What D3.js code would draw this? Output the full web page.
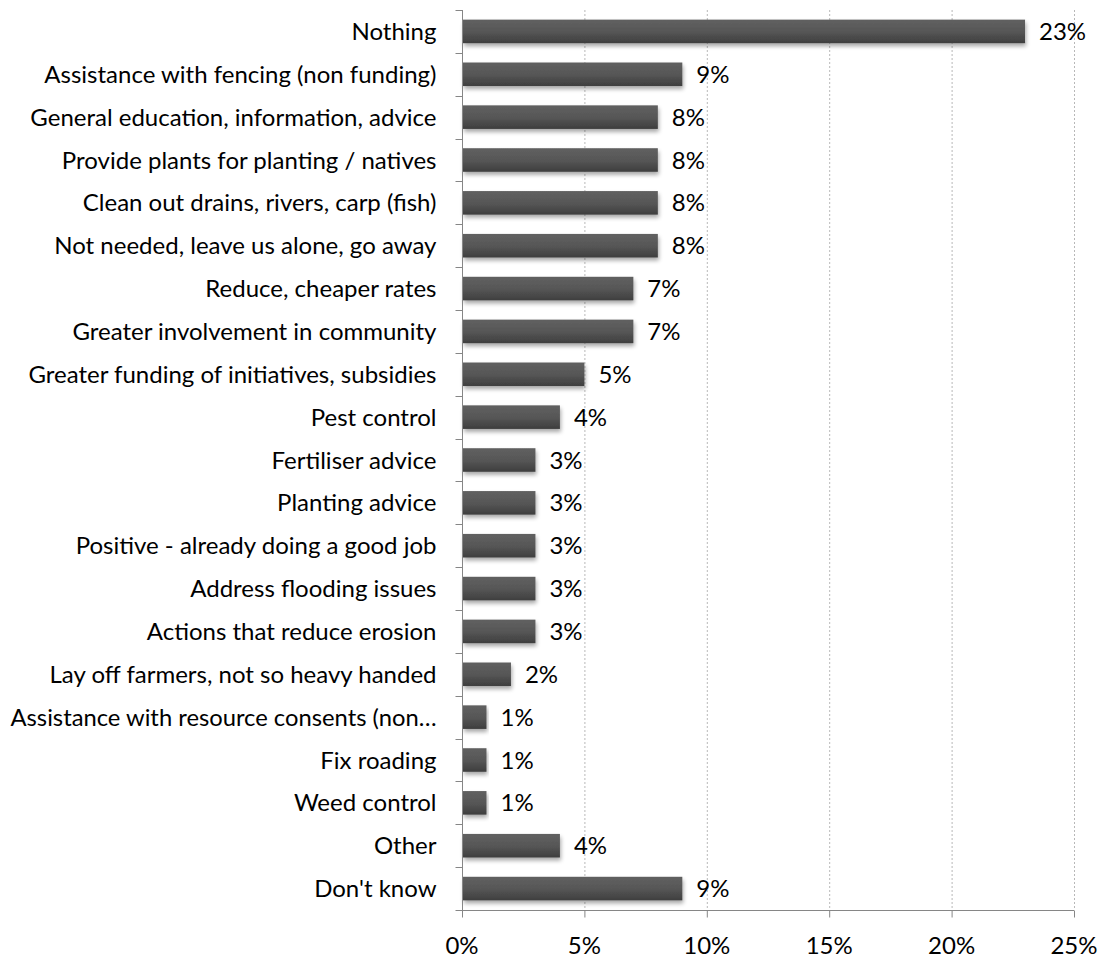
<!DOCTYPE html>
<html><head><meta charset="utf-8">
<script src="https://d3js.org/d3.v7.min.js"></script>
<style>body{margin:0;background:#fff}svg{display:block}text{font-family:Lato,"Open Sans",sans-serif;fill:#000}</style>
</head><body><svg id="c" width="1105" height="960"></svg>
<script>
const categories = ["Nothing","Assistance with fencing (non funding)","General education, information, advice","Provide plants for planting / natives","Clean out drains, rivers, carp (fish)","Not needed, leave us alone, go away","Reduce, cheaper rates","Greater involvement in community","Greater funding of initiatives, subsidies","Pest control","Fertiliser advice","Planting advice","Positive - already doing a good job","Address flooding issues","Actions that reduce erosion","Lay off farmers, not so heavy handed","Assistance with resource consents (non…","Fix roading","Weed control","Other","Don't know"];
const values = [23,9,8,8,8,8,7,7,5,4,3,3,3,3,3,2,1,1,1,4,9];
const xTicks = [0,5,10,15,20,25];

const FS = "24px";
const svg = d3.select("#c");
const m = {l:462, r:1074, t:10, b:910};
const x = d3.scaleLinear().domain([0,25]).range([m.l,m.r]);
const y = d3.scaleBand().domain(categories).range([m.t,m.b]).paddingInner(0.45).paddingOuter(0.225);

const defs = svg.append("defs");
const g = defs.append("linearGradient").attr("id","bg").attr("x1",0).attr("y1",0).attr("x2",0).attr("y2",1);
g.append("stop").attr("offset","0%").attr("stop-color","#606060");
g.append("stop").attr("offset","50%").attr("stop-color","#575757");
g.append("stop").attr("offset","100%").attr("stop-color","#3e3e3e");
const f = defs.append("filter").attr("id","sh").attr("x","-5%").attr("y","-30%").attr("width","115%").attr("height","180%");
f.append("feGaussianBlur").attr("in","SourceAlpha").attr("stdDeviation",2).attr("result","b");
f.append("feOffset").attr("in","b").attr("dx",1).attr("dy",3).attr("result","o");
f.append("feComponentTransfer").attr("in","o").attr("result","o2").append("feFuncA").attr("type","linear").attr("slope",0.35);
const mg = f.append("feMerge"); mg.append("feMergeNode").attr("in","o2"); mg.append("feMergeNode").attr("in","SourceGraphic");

// gridlines
svg.append("g").selectAll("line").data(xTicks.slice(1)).join("line")
  .attr("x1",d=>x(d)+0.5).attr("x2",d=>x(d)+0.5).attr("y1",m.t).attr("y2",m.b)
  .attr("stroke","#b8b8b8").attr("stroke-width",1).attr("stroke-dasharray","2,2");

// bars
svg.append("g").selectAll("rect").data(categories).join("rect")
  .attr("x",x(0)+1).attr("y",d=>y(d)).attr("height",y.bandwidth())
  .attr("width",(d,i)=>x(values[i])-x(0)-1)
  .attr("fill","url(#bg)").attr("filter","url(#sh)");

// value labels
svg.append("g").selectAll("text").data(categories).join("text")
  .attr("x",(d,i)=>x(values[i])+14).attr("y",d=>y(d)+y.bandwidth()/2)
  .attr("dy","0.36em").style("font-size",FS).text((d,i)=>values[i]+"%");

// y axis
const ya = svg.append("g").attr("transform",`translate(${m.l+0.5},0)`);
ya.append("line").attr("y1",m.t).attr("y2",m.b).attr("stroke","#868686");
const bounds = d3.range(categories.length+1).map(i=>m.t + i*(m.b-m.t)/categories.length);
ya.selectAll("line.t").data(bounds).join("line").attr("class","t")
  .attr("x1",-7).attr("x2",0).attr("y1",d=>Math.round(d)+0.5).attr("y2",d=>Math.round(d)+0.5).attr("stroke","#868686");
const maxW = m.l - 26 - 10;
ya.selectAll("text").data(categories).join("text")
  .attr("x",-26).attr("y",d=>y(d)+y.bandwidth()/2).attr("dy","0.36em")
  .attr("text-anchor","end").style("font-size",FS).text(d=>d)
  .each(function(){ const w=this.getComputedTextLength(); if(w>maxW){ d3.select(this).attr("textLength",maxW).attr("lengthAdjust","spacingAndGlyphs"); } });

// x axis
const xa = svg.append("g").attr("transform",`translate(0,${m.b+0.5})`);
xa.append("line").attr("x1",m.l).attr("x2",m.r).attr("stroke","#868686");
xa.selectAll("line.t").data(xTicks).join("line").attr("class","t")
  .attr("x1",d=>x(d)+0.5).attr("x2",d=>x(d)+0.5).attr("y1",0).attr("y2",7).attr("stroke","#868686");
xa.selectAll("text").data(xTicks).join("text")
  .attr("x",d=>x(d)).attr("y",43).attr("text-anchor","middle").style("font-size",FS).text(d=>d+"%");
</script></body></html>
